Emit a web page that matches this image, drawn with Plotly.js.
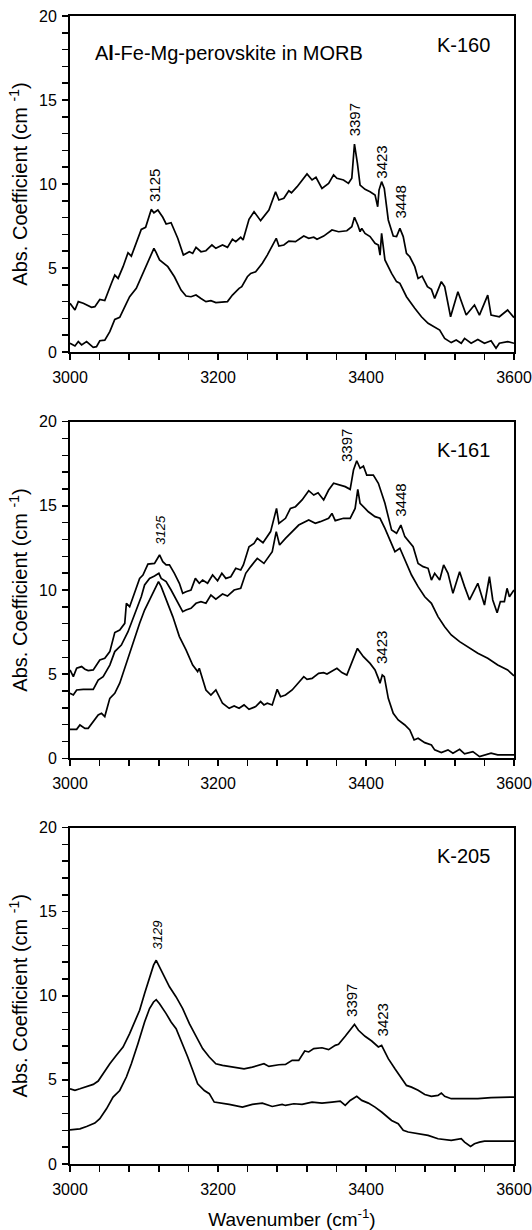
<!DOCTYPE html>
<html>
<head>
<meta charset="utf-8">
<script src="https://cdn.plot.ly/plotly-3.0.1.min.js"></script>
<style>html,body{margin:0;padding:0;background:#fff;}#chart{width:532px;height:1230px;}</style>
</head>
<body>
<div id="chart"></div>
<script>
// ---------- K-160 ----------
const k160UpperWn = [3000,3006.7,3011.2,3017.9,3029.1,3033.6,3040.3,3047,3056,3060.5,3065,3071.7,3078.4,3082.9,3096.3,3102.2,3109.8,3113.4,3118.7,3125.4,3129.9,3136.6,3145.6,3153.2,3161.3,3165.8,3170.3,3177,3183.7,3191.8,3197.1,3206.1,3212.8,3219.5,3224,3230.7,3233.9,3241.9,3248.7,3257.6,3268.8,3277.8,3282.3,3289,3295.7,3299.3,3306.9,3320.3,3327.1,3332.4,3340.5,3349.5,3356.2,3360.7,3369.6,3376.3,3380.8,3384.4,3388.4,3392,3398.7,3405.5,3412.2,3415.8,3417.6,3421.1,3424.7,3430.1,3436.8,3441.3,3445.8,3450.3,3454.7,3459.2,3465.9,3470.4,3475.8,3483,3488.4,3492.8,3501.8,3506.3,3514.3,3524.2,3535.4,3546.6,3553.3,3564.5,3569,3580.2,3591.4,3600];
const k160UpperAbs = [2.90,2.50,3.00,2.90,2.66,2.70,3.13,3.06,4.09,4.58,4.38,5.08,5.91,5.71,7.30,7.42,8.49,8.29,8.45,8.02,7.62,7.70,6.77,5.77,5.97,5.87,6.23,5.97,6.03,6.37,6.17,6.37,6.23,6.71,6.57,6.83,6.67,7.90,8.35,7.82,8.45,9.54,9.05,9.15,9.60,9.48,9.84,10.60,10.24,10.40,9.74,10.04,10.54,10.34,10.24,10.04,10.34,12.38,11.23,9.94,9.68,9.54,9.35,8.65,9.64,10.14,9.74,7.86,6.90,6.87,7.36,6.87,5.87,5.67,5.08,4.38,4.52,3.89,3.73,3.19,4.19,3.89,2.10,3.59,2.20,2.80,2.20,3.39,2.20,2.10,2.50,2.05];

const k160LowerWn = [3000,3006.7,3011.2,3015.7,3022.4,3031.4,3035.8,3040.3,3047,3053.8,3060.5,3067.2,3076.2,3080.6,3089.6,3100.8,3109.8,3113.4,3116.5,3121,3132.2,3141.1,3150.1,3156.8,3163.5,3170.3,3177,3183.7,3190.4,3197.1,3212.8,3219.5,3228.5,3232.1,3239.7,3244.2,3250.9,3259.9,3266.6,3275.5,3278.7,3282.3,3289,3295.7,3304.7,3315.9,3322.6,3329.4,3333.8,3342.8,3354,3363,3374.1,3380.8,3384.4,3388.9,3392,3394.3,3398.7,3405.5,3412.2,3416.7,3419,3421.1,3423.4,3425.6,3434.6,3441.3,3445.8,3454.7,3465.9,3474.9,3483.9,3492.8,3499.6,3506.3,3515.2,3521.9,3528.7,3533.2,3542.1,3551.1,3560.1,3569,3575.7,3580.2,3591.4,3600];
const k160LowerAbs = [0.52,0.36,0.62,0.42,0.62,0.28,0.32,0.67,0.71,1.21,1.94,2.06,2.90,3.29,3.79,4.88,5.77,6.17,5.91,5.48,5.08,4.48,3.69,3.33,3.29,3.39,3.19,3.00,3.06,2.94,3.00,3.39,3.79,3.89,4.48,4.68,4.78,5.28,5.77,6.47,6.77,6.31,6.37,6.60,6.57,6.90,6.77,6.83,6.71,6.90,7.26,7.16,7.22,7.46,8.02,7.56,7.16,7.36,7.06,6.87,6.47,6.37,5.77,7.06,6.07,5.48,4.68,4.19,4.09,3.29,2.60,2.10,1.71,1.51,1.31,0.81,0.56,0.71,0.52,0.81,0.52,0.75,0.52,0.67,0.22,0.52,0.62,0.52];

// ---------- K-161 ----------
const k161TopWn = [3000,3004.5,3009,3015.7,3020.2,3024.6,3031.4,3040.3,3047,3053.8,3060.5,3067.2,3074,3076.2,3080.6,3087.4,3094.1,3098.6,3105.3,3114.2,3121,3125.4,3129.9,3134.4,3141.1,3147.8,3152.3,3156.8,3163.5,3169.4,3174.7,3179.2,3185.9,3192.7,3199.4,3205.2,3210.6,3217.3,3224,3230.7,3234.3,3241.9,3248.7,3253.1,3260.8,3271.1,3279.1,3282.3,3291.2,3297.9,3304.7,3313.6,3322.6,3329.4,3335.2,3342.8,3349.5,3356.2,3362.9,3371.9,3378.6,3383.1,3387.5,3392,3396.5,3401,3409.9,3416.7,3425.6,3434.6,3441.3,3447.1,3452.5,3459.2,3463.7,3470.4,3477.2,3483.9,3488.4,3492.8,3499.6,3504.9,3510.8,3517.5,3526.5,3533.2,3539.9,3551.1,3560.1,3566.8,3571.3,3577.2,3581.6,3587,3590.6,3593.8,3600];
const k161TopAbs = [5.25,4.85,5.35,5.45,5.29,5.21,5.25,5.84,5.94,6.34,7.47,7.62,8.02,9.21,9.01,9.90,10.69,10.89,11.54,11.58,12.08,11.68,11.49,11.49,10.99,10.40,9.80,9.90,10.00,10.69,10.40,10.59,10.40,10.89,10.55,10.99,10.69,10.79,11.29,11.19,11.49,12.57,12.77,13.07,12.81,13.47,14.85,13.96,14.26,14.85,14.95,15.35,15.90,15.64,15.78,15.35,15.94,16.34,16.24,16.14,15.98,17.13,17.68,17.23,17.37,16.83,16.83,16.34,15.15,13.56,13.37,13.86,13.17,12.77,12.57,11.58,11.39,11.29,10.59,10.99,10.59,11.49,10.99,9.80,11.09,10.20,9.41,10.40,9.11,10.79,9.41,8.65,9.31,9.31,10.10,9.60,10.00];

const k161MidWn = [3000,3004.5,3009,3017.9,3031.4,3038.1,3044.8,3053.8,3060.5,3069.4,3078.4,3082.9,3089.6,3096.3,3100.8,3107.5,3114.2,3120.1,3123.2,3129.9,3136.6,3143.4,3152.3,3156.8,3163.5,3170.3,3177,3183.7,3190.4,3197.1,3206.1,3212.8,3221.8,3230.7,3237.5,3244.2,3253.1,3262.1,3273.3,3278.7,3283.2,3291.2,3300.2,3309.1,3322.6,3331.5,3338.2,3349.5,3354,3358.4,3369.6,3378.6,3385.3,3388.9,3392,3396.5,3403.2,3412.2,3418.9,3425.6,3432.4,3439.1,3445.8,3452.5,3461.5,3470.4,3479.4,3488.4,3497.3,3506.3,3515.2,3526.5,3537.6,3551.1,3564.5,3578,3591.4,3600];
const k161MidAbs = [3.86,3.76,4.06,4.10,4.10,4.65,4.85,5.54,6.34,6.73,7.52,8.02,8.81,9.60,10.30,10.69,10.83,10.99,10.69,10.50,10.00,9.41,8.71,8.81,8.91,9.21,9.31,9.21,9.70,9.45,9.76,9.64,10.00,10.10,10.99,11.39,11.88,11.58,12.28,13.47,12.67,13.07,13.47,13.86,14.16,13.96,14.06,14.26,14.55,14.12,14.26,14.26,14.85,15.98,15.15,14.95,14.65,14.36,14.26,13.66,12.97,12.28,12.48,11.78,10.89,10.20,9.60,9.21,8.42,7.82,7.33,6.93,6.63,6.24,5.94,5.54,5.25,4.90];

const k161LowWn = [3000,3009,3013.4,3020.2,3024.6,3031.4,3038.1,3042.6,3047,3053.8,3060.5,3067.2,3076.2,3085.1,3094.1,3100.8,3107.5,3114.2,3119.6,3123.2,3129.9,3138.9,3147.8,3156.8,3165.8,3172.5,3174.7,3183.7,3190.4,3197.1,3206.1,3215.1,3221.8,3228.5,3235.2,3241.9,3250.9,3257.6,3262.1,3266.6,3273.3,3280,3284.5,3291.2,3300.2,3315.9,3320.3,3327.1,3336,3342.8,3347.3,3360.7,3367.4,3374.1,3388.4,3396.5,3405.5,3412.2,3416.7,3418.9,3422,3424.7,3430.1,3436.8,3443.5,3452.5,3459.2,3465,3470.4,3479.4,3488.4,3492.8,3501.8,3510.8,3517.5,3526.5,3533.2,3544.4,3553.4,3560.1,3569,3578,3591.4,3600];
const k161LowAbs = [1.72,1.72,1.98,1.78,1.78,2.18,2.57,2.67,2.48,3.56,3.86,4.46,5.64,6.93,8.02,8.81,9.41,10.00,10.50,10.20,9.41,8.42,7.23,6.44,5.54,5.15,5.35,4.06,3.76,4.06,3.27,2.97,3.11,2.97,3.17,2.91,3.07,3.37,3.17,3.27,3.17,4.10,3.66,3.76,4.06,4.85,4.69,4.75,5.05,5.09,5.01,5.35,5.09,4.95,6.53,6.04,5.64,5.25,4.75,4.46,4.95,4.85,3.56,2.67,2.28,1.98,1.68,1.09,1.19,0.93,0.79,0.50,0.34,0.50,0.30,0.53,0.26,0.40,0.10,0.20,0.30,0.20,0.20,0.20];

// ---------- K-205 ----------
const k205TopWn = [3000,3006.7,3013.4,3022.4,3031.4,3038.1,3044.8,3053.8,3062.7,3071.7,3080.6,3087.4,3094.1,3100.8,3107.5,3112.9,3116.5,3121,3127.7,3134.4,3143.4,3152.3,3161.3,3170.3,3179.2,3188.2,3197.1,3206.1,3219.5,3235.2,3246.4,3255.4,3262.1,3268.8,3282.3,3291.2,3300.2,3309.1,3317.2,3322.6,3329.4,3340.5,3349.5,3358.4,3362.9,3371.9,3378.6,3384.4,3389.8,3398.7,3407.7,3416.7,3421.1,3430.1,3439.1,3448.1,3454.7,3461.5,3470.4,3479.4,3488.4,3497.3,3501.8,3506.3,3515.2,3533.2,3551.1,3569,3587,3600];
const k205TopAbs = [4.47,4.38,4.47,4.61,4.73,4.93,5.37,5.96,6.46,6.95,7.75,8.44,9.14,10.13,11.12,11.82,12.11,11.72,11.12,10.53,9.93,9.24,8.34,7.55,6.86,6.36,5.96,5.86,5.76,5.66,5.76,5.86,5.96,5.80,5.90,5.92,6.16,6.16,6.72,6.66,6.86,6.91,6.80,7.05,7.11,7.59,7.95,8.30,7.95,7.59,7.31,6.96,7.05,6.26,5.66,5.07,4.67,4.57,4.38,4.13,4.02,4.08,4.22,4.02,3.88,3.88,3.88,3.94,3.98,3.98];

const k205LowWn = [3000,3013.4,3022.4,3033.6,3040.3,3049.3,3058.2,3067.2,3076.2,3082.9,3091.8,3100.8,3107.5,3112.9,3116.5,3121,3129.9,3136.6,3143.4,3150.1,3159.1,3165.8,3172.5,3181.5,3188.2,3194.9,3206.1,3215.1,3233,3246.4,3259.9,3273.3,3286.7,3291.2,3302.4,3313.6,3327.1,3340.5,3354,3365.2,3371.9,3378.6,3387.5,3394.3,3403.2,3412.2,3421.1,3434.6,3443.5,3450.3,3457,3470.4,3483.9,3497.3,3515.2,3528.7,3533.2,3541.3,3546.6,3553.4,3560.1,3578,3600];
const k205LowAbs = [2.03,2.09,2.23,2.43,2.69,3.28,3.98,4.37,5.17,5.96,7.15,8.44,9.24,9.63,9.77,9.53,8.94,8.44,8.04,7.35,6.36,5.57,4.77,4.37,4.18,3.68,3.62,3.54,3.38,3.54,3.62,3.42,3.54,3.48,3.58,3.54,3.68,3.62,3.68,3.74,3.48,3.78,4.02,3.78,3.62,3.38,3.09,2.59,2.39,2.00,1.90,1.80,1.70,1.50,1.40,1.50,1.30,1.04,1.20,1.30,1.36,1.36,1.36];

// ---------- labels ----------
const sampleNames = ['K-160','K-161','K-205'];
const headline = 'A<b>l</b>-Fe-Mg-perovskite in MORB';
const xTicks = [3000,3200,3400,3600];
const yTicks = [0,5,10,15,20];
const yTitle = 'Abs. Coefficient (cm <sup>-1</sup>)';
const xTitle = 'Wavenumber (cm<sup>-1</sup>)';
// peak labels: [panel, text, wavenumber, absorbance-center, italic]
const peakLabels = [
  [1,'3125',3114,9.9,false],
  [1,'3397',3384,13.8,false],
  [1,'3423',3421,11.3,false],
  [1,'3448',3446,8.9,false],
  [2,'3125',3122,13.6,true],
  [2,'3397',3374,18.6,false],
  [2,'3448',3447,15.35,false],
  [2,'3423',3420,6.6,false],
  [3,'3129',3118,13.6,true],
  [3,'3397',3381,9.75,false],
  [3,'3423',3422,8.55,false]
];

const FONT = 'Liberation Sans, Arial, Helvetica, sans-serif';
function line(x,y,ax){
  return {x:x,y:y,type:'scatter',mode:'lines',xaxis:ax[0],yaxis:ax[1],
    line:{color:'#000',width:1.7},hoverinfo:'skip',showlegend:false};
}
const traces = [
  line(k160UpperWn,k160UpperAbs,['x','y']),
  line(k160LowerWn,k160LowerAbs,['x','y']),
  line(k161TopWn,k161TopAbs,['x2','y2']),
  line(k161MidWn,k161MidAbs,['x2','y2']),
  line(k161LowWn,k161LowAbs,['x2','y2']),
  line(k205TopWn,k205TopAbs,['x3','y3']),
  line(k205LowWn,k205LowAbs,['x3','y3'])
];

function xax(anchor, withTitle){
  const a = {anchor:anchor,domain:[0,1],range:[3000,3600],tickvals:xTicks,ticktext:xTicks.map(String),
    ticks:'outside',ticklen:6,tickwidth:1.5,tickcolor:'#000',
    minor:{dtick:40,tick0:3000,ticks:'outside',ticklen:6,tickwidth:1.5,tickcolor:'#000',showgrid:false},
    showline:true,linecolor:'#000',linewidth:2,mirror:true,showgrid:false,zeroline:false,
    ticklabeloverflow:'allow',
    tickfont:{family:FONT,size:16,color:'#000'},ticklabelstandoff:4,fixedrange:true};
  if(withTitle){a.title={text:xTitle,font:{family:FONT,size:19,color:'#000'},standoff:18};}
  return a;
}
function yax(anchor, domain){
  return {anchor:anchor,domain:domain,range:[0,20],tickvals:yTicks,ticktext:yTicks.map(String),
    ticks:'outside',ticklen:6,tickwidth:1.5,tickcolor:'#000',
    minor:{dtick:1,tick0:0,ticks:'outside',ticklen:6,tickwidth:1.5,tickcolor:'#000',showgrid:false},
    showline:true,linecolor:'#000',linewidth:2,mirror:true,showgrid:false,zeroline:false,
    tickfont:{family:FONT,size:16,color:'#000'},ticklabelstandoff:2,fixedrange:true,
    title:{text:yTitle,font:{family:FONT,size:20,color:'#000'},standoff:6}};
}

const annotations = [];
const axIds = ['', '2', '3'];
sampleNames.forEach((s,i)=>{
  annotations.push({xref:'x'+axIds[i],yref:'y'+axIds[i],x:3570,y:18.3,text:s,showarrow:false,
    xanchor:'right',yanchor:'middle',font:{family:FONT,size:20,color:'#000'}});
});
annotations.push({xref:'x',yref:'y',x:3031,y:17.8,text:headline,showarrow:false,
  xanchor:'left',yanchor:'middle',font:{family:FONT,size:20,color:'#000'}});
peakLabels.forEach(p=>{
  annotations.push({xref:'x'+axIds[p[0]-1],yref:'y'+axIds[p[0]-1],x:p[2],y:p[3],
    text:p[4]?'<i>'+p[1]+'</i>':p[1],textangle:-90,showarrow:false,xanchor:'center',yanchor:'middle',
    font:{family:FONT,size:p[4]?13:15,color:'#000'}});
});

const layout = {
  width:532,height:1230,
  margin:{l:70,r:18,t:16,b:66},
  paper_bgcolor:'#fff',plot_bgcolor:'#fff',
  showlegend:false,
  xaxis:xax('y',false),
  xaxis2:xax('y2',false),
  xaxis3:xax('y3',true),
  yaxis:yax('x',[0.7073,1]),
  yaxis2:yax('x2',[0.3534,0.6466]),
  yaxis3:yax('x3',[0,0.2931]),
  annotations:annotations
};
Plotly.newPlot('chart',traces,layout,{displayModeBar:false,staticPlot:true});
</script>
</body>
</html>
